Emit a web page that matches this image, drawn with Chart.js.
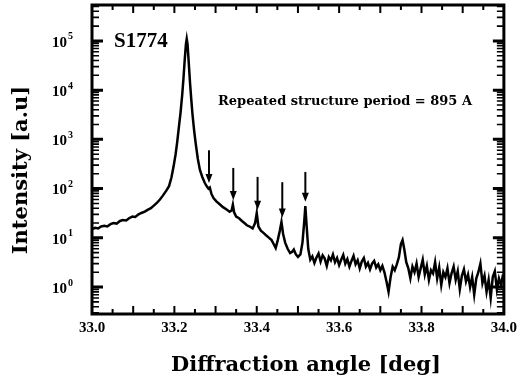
<!DOCTYPE html>
<html>
<head>
<meta charset="utf-8">
<script src="https://cdn.jsdelivr.net/npm/chart.js@4/dist/chart.umd.min.js"></script>
<style>
  body { margin: 0; background: #fff; }
  canvas { display: block; }
</style>
</head>
<body>
<canvas id="xrdChart" width="522" height="388"></canvas>
<script>
// X-ray diffraction scan of sample S1774
const angles = [
  33.000, 33.008, 33.015, 33.022, 33.030, 33.037, 33.045, 33.052, 33.060, 33.068,
  33.075, 33.083, 33.090, 33.098, 33.105, 33.113, 33.120, 33.128, 33.135, 33.143,
  33.150, 33.158, 33.165, 33.172, 33.180, 33.187, 33.193, 33.198, 33.203, 33.207,
  33.211, 33.215, 33.219, 33.222, 33.225, 33.228, 33.230, 33.232, 33.235, 33.238,
  33.241, 33.244, 33.248, 33.252, 33.257, 33.262, 33.268, 33.274, 33.279, 33.283,
  33.286, 33.290, 33.295, 33.302, 33.310, 33.318, 33.326, 33.334, 33.339, 33.342,
  33.345, 33.350, 33.357, 33.364, 33.370, 33.376, 33.383, 33.390, 33.396, 33.400,
  33.404, 33.410, 33.417, 33.424, 33.430, 33.436, 33.441, 33.446, 33.451, 33.456,
  33.460, 33.464, 33.469, 33.475, 33.481, 33.486, 33.490, 33.495, 33.500, 33.506,
  33.511, 33.515, 33.518, 33.521, 33.525, 33.530, 33.535, 33.540, 33.545, 33.550,
  33.555, 33.560, 33.565, 33.570, 33.575, 33.580, 33.585, 33.590, 33.595, 33.600,
  33.605, 33.610, 33.615, 33.620, 33.625, 33.630, 33.635, 33.640, 33.645, 33.650,
  33.655, 33.660, 33.665, 33.670, 33.675, 33.680, 33.685, 33.690, 33.695, 33.700,
  33.705, 33.710, 33.715, 33.720, 33.725, 33.730, 33.735, 33.740, 33.745, 33.750,
  33.754, 33.758, 33.763, 33.768, 33.773, 33.778, 33.783, 33.788, 33.793, 33.798,
  33.803, 33.808, 33.813, 33.818, 33.823, 33.828, 33.833, 33.838, 33.843, 33.848,
  33.853, 33.858, 33.863, 33.868, 33.873, 33.878, 33.883, 33.888, 33.893, 33.898,
  33.903, 33.908, 33.913, 33.918, 33.923, 33.928, 33.933, 33.938, 33.943, 33.948,
  33.953, 33.958, 33.963, 33.968, 33.973, 33.978, 33.983, 33.988, 33.993, 33.998
];

const intensity = [
  15, 16, 15.5, 17, 17.5, 17, 19, 20, 19.5, 22,
  23, 22.5, 25, 27, 26.5, 30, 32, 34, 37, 40,
  45, 52, 60, 72, 90, 112, 170, 280, 500, 900,
  1800, 3500, 8000, 17000, 40000, 85000, 110000, 85000, 35000, 14000,
  6500, 3200, 1500, 800, 400, 240, 170, 130, 110, 100,
  105, 78, 64, 55, 48, 42, 38, 34, 36, 47,
  33, 27, 25, 22, 20, 18, 17, 15.5, 20, 32,
  17, 14, 12.5, 11, 10, 9, 7.5, 6.2, 9, 14,
  21, 12, 8, 6, 4.9, 5.2, 5.8, 4.6, 4.1, 4.6,
  8, 20, 44, 18, 6, 3.6, 4.2, 3.1, 4.0, 4.8,
  3.3, 4.4, 3.8, 2.7, 4.1, 3.5, 4.6, 3.2, 3.9, 2.8,
  3.6, 4.5, 3.0, 3.7, 2.6, 3.4, 4.3, 2.9, 3.5, 2.4,
  3.3, 3.9, 2.6, 3.1, 2.3, 3.0, 3.4, 2.5, 2.9, 2.2,
  2.7, 2.0, 1.3, 0.8, 1.6, 2.6, 2.2, 2.9, 4.0, 7.5,
  9.0, 6.0, 3.2, 2.4, 1.5, 2.6, 2.0, 3.0, 1.6, 2.4,
  3.6, 1.8, 2.7, 1.4, 2.2, 1.9, 3.2, 1.5, 2.5, 1.1,
  2.0, 1.6, 2.4, 1.2, 1.9, 2.6, 1.4, 2.1, 0.9, 1.7,
  2.3, 1.3, 1.8, 1.0, 1.6, 0.7, 1.5, 2.0, 3.0, 1.2,
  1.7, 0.8, 1.4, 0.6, 1.6, 2.1, 0.9, 1.5, 1.1, 1.8
];

// satellite peaks marked with arrows: angle, arrow tip and tail intensity
const arrowAngles = [33.284, 33.343, 33.402, 33.462, 33.518];
const arrowTips   = [130, 59, 37, 26, 54];
const arrowTails  = [600, 263, 173, 135, 218];

// axis ticks
const angleLabels = [33.0, 33.2, 33.4, 33.6, 33.8, 34.0];
const decadeExponents = [0, 1, 2, 3, 4, 5];

const serif = "'Liberation Serif', 'Times New Roman', serif";
const wideSerif = "'DejaVu Serif', serif";

const points = angles.map((a, i) => ({ x: a, y: intensity[i] }));

// inward ticks, heavy frame, arrows and labels
const decorations = {
  id: 'decorations',
  afterDraw(chart) {
    const { ctx, chartArea: area, scales: { x, y } } = chart;
    ctx.save();
    ctx.strokeStyle = '#000';
    ctx.fillStyle = '#000';

    // x ticks every 0.05 deg, top and bottom
    ctx.lineWidth = 2;
    for (let k = 0; k <= 20; k++) {
      const px = x.getPixelForValue(33 + k * 0.05);
      const len = k % 2 === 0 ? 8 : 5;
      ctx.beginPath();
      ctx.moveTo(px, area.bottom);
      ctx.lineTo(px, area.bottom - len);
      ctx.moveTo(px, area.top);
      ctx.lineTo(px, area.top + len);
      ctx.stroke();
    }

    // y ticks, decades and minors, left and right
    for (let e = -1; e <= 5; e++) {
      for (let m = 1; m <= 9; m++) {
        const v = m * Math.pow(10, e);
        if (v < y.min || v > y.max) continue;
        const py = y.getPixelForValue(v);
        const len = m === 1 ? 11 : 7;
        ctx.lineWidth = m === 1 ? 3 : 1.6;
        ctx.beginPath();
        ctx.moveTo(area.left, py);
        ctx.lineTo(area.left + len, py);
        ctx.moveTo(area.right, py);
        ctx.lineTo(area.right - len, py);
        ctx.stroke();
      }
    }

    // frame
    ctx.lineWidth = 3;
    ctx.strokeRect(area.left, area.top, area.right - area.left, area.bottom - area.top);

    // y tick labels as 10^n
    decadeExponents.forEach(e => {
      const py = y.getPixelForValue(Math.pow(10, e));
      ctx.font = 'bold 15px ' + serif;
      ctx.textAlign = 'right';
      ctx.textBaseline = 'middle';
      ctx.fillText('10', 67, py + 2);
      ctx.font = 'bold 10px ' + serif;
      ctx.textAlign = 'left';
      ctx.fillText(String(e), 68, py - 4);
    });

    // arrows over the satellite peaks
    ctx.lineWidth = 2;
    arrowAngles.forEach((a, i) => {
      const px = x.getPixelForValue(a);
      const tip = y.getPixelForValue(arrowTips[i]);
      const tail = y.getPixelForValue(arrowTails[i]);
      ctx.beginPath();
      ctx.moveTo(px, tail);
      ctx.lineTo(px, tip - 5);
      ctx.stroke();
      ctx.beginPath();
      ctx.moveTo(px, tip);
      ctx.lineTo(px - 3.5, tip - 9);
      ctx.lineTo(px + 3.5, tip - 9);
      ctx.closePath();
      ctx.fill();
    });

    // annotations
    ctx.textAlign = 'left';
    ctx.textBaseline = 'alphabetic';
    ctx.font = 'bold 21px ' + serif;
    ctx.fillText('S1774', area.left + 22, area.top + 42);
    ctx.font = 'bold 13px ' + wideSerif;
    ctx.fillText('Repeated structure period = 895 A', 218, 105);

    // axis titles, placed as in the original figure
    ctx.font = 'bold 21px ' + wideSerif;
    ctx.textAlign = 'center';
    ctx.textBaseline = 'middle';
    ctx.fillText('Diffraction angle [deg]', 306, 366);
    ctx.save();
    ctx.translate(22, 170);
    ctx.rotate(-Math.PI / 2);
    ctx.fillText('Intensity [a.u]', 0, 0);
    ctx.restore();

    ctx.restore();
  }
};

const xrdChart = new Chart(document.getElementById('xrdChart'), {
  type: 'line',
  data: {
    datasets: [{
      data: points,
      borderColor: '#000',
      borderWidth: 2.5,
      pointRadius: 0,
      tension: 0,
      fill: false
    }]
  },
  options: {
    responsive: false,
    animation: false,
    devicePixelRatio: 1,
    layout: { padding: { top: 5, right: 15, left: 0, bottom: 0 } },
    plugins: {
      legend: { display: false },
      tooltip: { enabled: false }
    },
    scales: {
      x: {
        type: 'linear',
        min: 33,
        max: 34,
        afterFit: s => { s.height = 74; },
        afterBuildTicks: s => { s.ticks = angleLabels.map(v => ({ value: v })); },
        grid: { display: false, drawTicks: false },
        border: { display: false },
        ticks: {
          padding: 5,
          color: '#000',
          font: { family: serif, size: 15, weight: 'bold' },
          callback: v => Number(v).toFixed(1)
        }
      },
      y: {
        type: 'logarithmic',
        min: 0.284,
        max: 536000,
        afterFit: s => { s.width = 92; },
        grid: { display: false, drawTicks: false },
        border: { display: false },
        ticks: { display: false }
      }
    }
  },
  plugins: [decorations]
});
</script>
</body>
</html>
